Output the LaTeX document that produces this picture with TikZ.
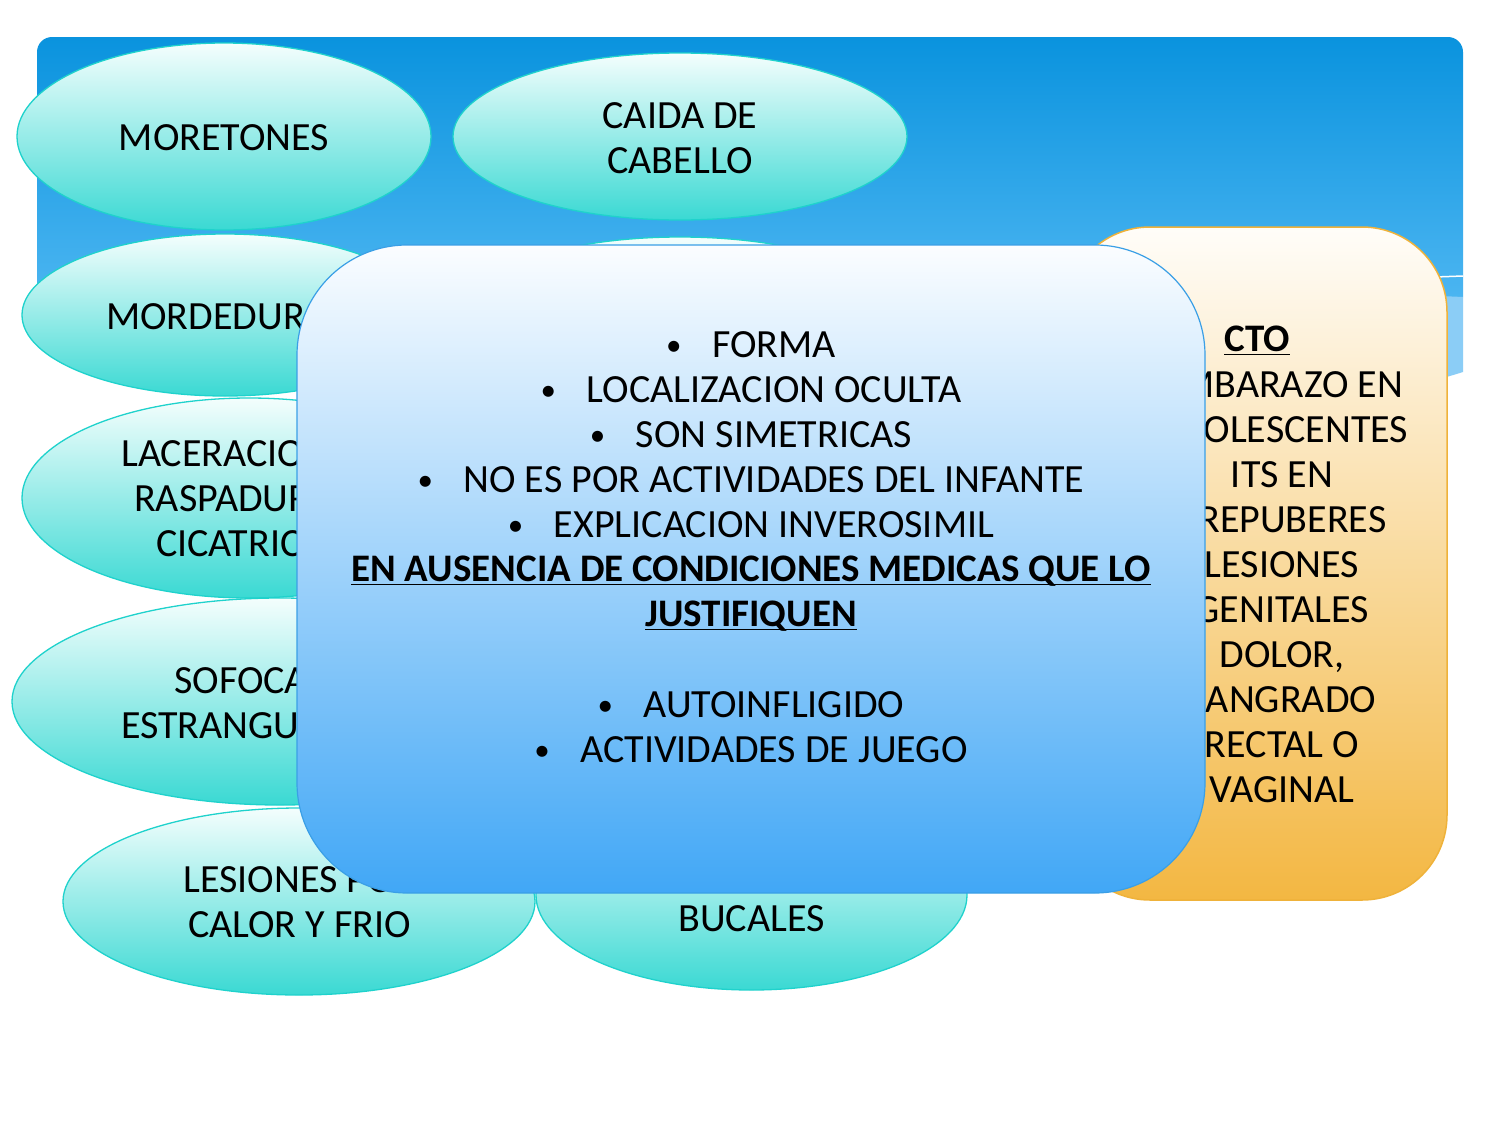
\documentclass[tikz,border=0pt]{standalone}
\usepackage{fontspec}
\setmainfont{Carlito}
\usetikzlibrary{shapes.geometric}
\definecolor{bgtop}{HTML}{0A93DE}
\definecolor{bgbot}{HTML}{4BB5F1}
\definecolor{wavecol}{HTML}{8BCDF6}
\definecolor{elltop}{HTML}{F4FEFD}
\definecolor{ellbot}{HTML}{3AD9D3}
\definecolor{elldraw}{HTML}{1FD2CC}
\definecolor{maintop}{HTML}{FBFDFF}
\definecolor{mainbot}{HTML}{41A7F6}
\definecolor{maindraw}{HTML}{3A9FE6}
\definecolor{ctotop}{HTML}{FFFDF9}
\definecolor{ctobot}{HTML}{F3B742}
\definecolor{ctodraw}{HTML}{EFB23A}
\newcommand{\smbullet}{\raisebox{1.5pt}{\fontsize{31}{31}\selectfont\textbullet}}
\begin{document}
\begin{tikzpicture}[x=1pt,y=-1pt,
  ell/.style={ellipse, draw=elldraw, line width=1.3pt, top color=elltop, bottom color=ellbot, inner sep=0pt},
  txt/.style={font=\fontsize{40}{45}\selectfont, inner sep=0pt, text=black},
  btxt/.style={font=\fontsize{39}{45}\selectfont\bfseries, inner sep=0pt, text=black},
  mainbox/.style={rectangle, rounded corners=110pt, draw=maindraw, line width=1.2pt, top color=maintop, bottom color=mainbot, inner sep=0pt},
  ctobox/.style={rectangle, rounded corners=85pt, draw=ctodraw, line width=1.5pt, top color=ctotop, bottom color=ctobot, inner sep=0pt},
  uline/.style={line width=1.6pt, black}
]
\useasboundingbox (0,0) rectangle (1500,1125);
\fill[white] (0,0) rectangle (1500,1125);
% background header
\shade[top color=bgtop, bottom color=bgbot] (37,297) -- (37,52) arc[start angle=180,end angle=270,radius=15] -- (1448,37) arc[start angle=270,end angle=360,radius=15] -- (1463,297) -- cycle;
\fill[wavecol] (1463,297) -- (1463,372) .. controls (1250,440) and (900,390) .. (650,335) .. controls (900,300) and (1200,285) .. (1463,297) -- cycle;
\draw[white, line width=1.5pt] (1250,286) .. controls (1350,280) .. (1463,276);

% ellipses
\node[ell, minimum width=414, minimum height=187] (e1) at (224,136.5) {};
\node[txt, anchor=base] (t1) at (224,150) {MORETONES};

\node[ell, minimum width=454, minimum height=167] (e2) at (680,136.5) {};
\node[txt, anchor=base] (t2a) at (680,128) {CAIDA DE};
\node[txt, anchor=base] (t2b) at (680,173) {CABELLO};

\node[ell, minimum width=406, minimum height=162] (e3) at (225,315) {};
\node[txt, anchor=base west] (t3) at (106,329) {MORDEDURAS};

\node[ell, minimum width=454, minimum height=166] (e4) at (680,320) {};

\node[ell, minimum width=454, minimum height=200] (e5) at (249,498) {};
\node[txt, anchor=base west] (t5a) at (121,466) {LACERACIONES,};
\node[txt, anchor=base west] (t5b) at (134,511) {RASPADURAS,};
\node[txt, anchor=base west] (t5c) at (156,556) {CICATRICES};

\node[ell, minimum width=536, minimum height=207] (e6) at (280,701.5) {};
\node[txt, anchor=base west] (t6a) at (174,693) {SOFOCACION,};
\node[txt, anchor=base west] (t6b) at (121,738) {ESTRANGULACION};

\node[ell, minimum width=472, minimum height=187] (e7) at (299,901.5) {};
\node[txt, anchor=base] (t7a) at (299.5,892) {LESIONES POR};
\node[txt, anchor=base] (t7b) at (299.5,937) {CALOR Y FRIO};

\node[ell, minimum width=431, minimum height=190] (e8) at (751.5,895) {};
\node[txt, anchor=base] (t8) at (751.5,931) {BUCALES};

% CTO box
\node[ctobox, minimum width=382, minimum height=673] (cto) at (1256,563.5) {};
\node[btxt, anchor=base] (cto0) at (1257,351.5) {CTO};
\draw[uline] ([yshift=-3pt]cto0.base west) -- ([yshift=-3pt]cto0.base east);
\foreach \lbl [count=\i] in {EMBARAZO EN, ADOLESCENTES, ITS EN, PREPUBERES, LESIONES, GENITALES, {DOLOR,}, SANGRADO, RECTAL O, VAGINAL}
  \node[txt, anchor=base] (cto\i) at (1282,352+45*\i) {\lbl};

% main box
\node[mainbox, minimum width=908, minimum height=648] (main) at (751,569) {};
\foreach \yy/\lbl [count=\i] in {344/FORMA, 389/LOCALIZACION OCULTA, 434/SON SIMETRICAS, 479/NO ES POR ACTIVIDADES DEL INFANTE, 524/EXPLICACION INVEROSIMIL, 704/AUTOINFLIGIDO, 749/ACTIVIDADES DE JUEGO}
  \node[txt, anchor=base] (b\i) at (751,\yy+13) {\makebox[46pt][l]{\smbullet}\lbl};
\node[btxt, anchor=base] (u1) at (751,581.5) {EN AUSENCIA DE CONDICIONES MEDICAS QUE LO};
\draw[uline] ([yshift=-3pt]u1.base west) -- ([yshift=-3pt]u1.base east);
\node[btxt, anchor=base] (u2) at (751,626.5) {JUSTIFIQUEN};
\draw[uline] ([yshift=-3pt]u2.base west) -- ([yshift=-3pt]u2.base east);
\end{tikzpicture}
\end{document}
